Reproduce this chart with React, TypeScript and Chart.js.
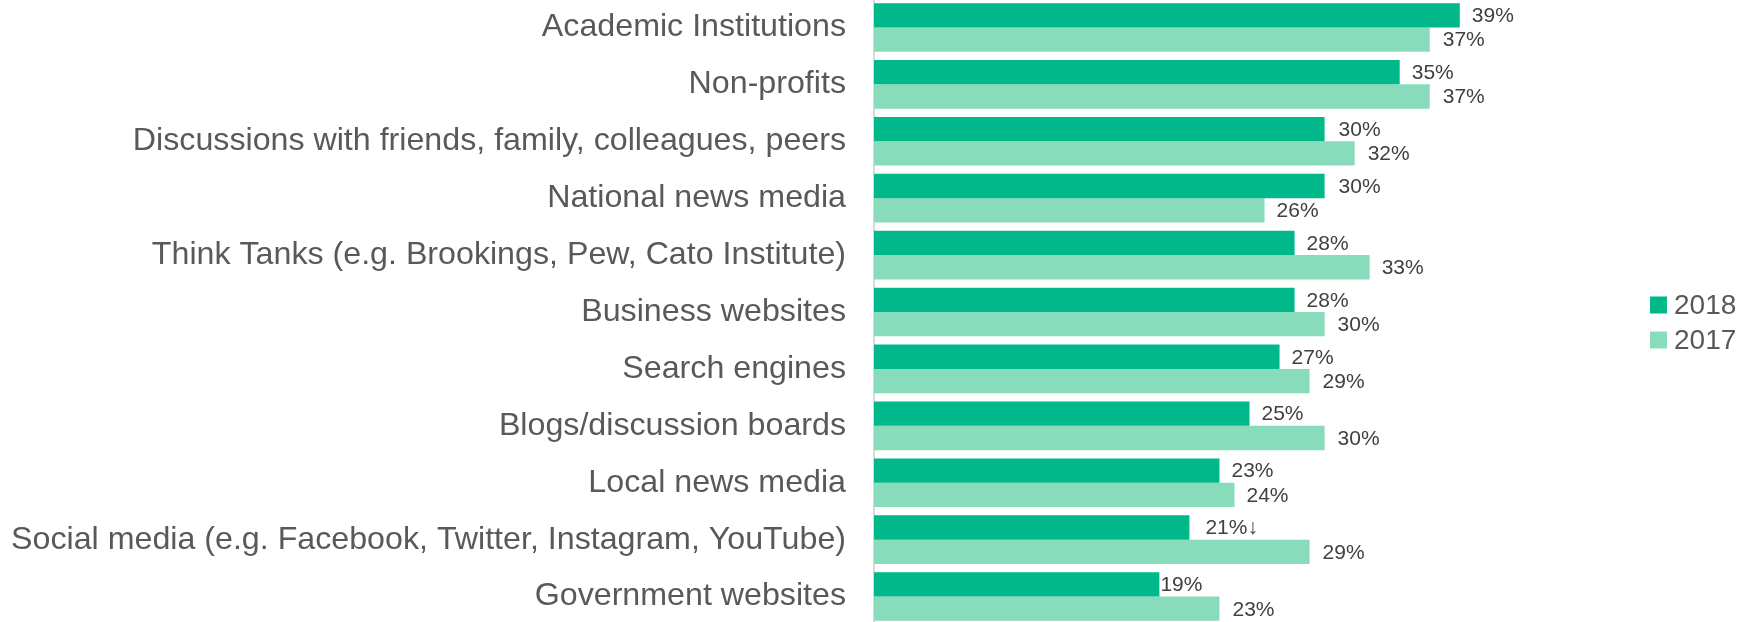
import React, { useEffect, useRef } from "react";
import { Chart, registerables } from "chart.js";

Chart.register(...registerables);

const categories: string[] = [
  "Academic Institutions",
  "Non-profits",
  "Discussions with friends, family, colleagues, peers",
  "National news media",
  "Think Tanks (e.g. Brookings, Pew, Cato Institute)",
  "Business websites",
  "Search engines",
  "Blogs/discussion boards",
  "Local news media",
  "Social media (e.g. Facebook, Twitter, Instagram, YouTube)",
  "Government websites",
];

const values2018: number[] = [39, 35, 30, 30, 28, 28, 27, 25, 23, 21, 19];
const values2017: number[] = [37, 37, 32, 26, 33, 30, 29, 30, 24, 29, 23];

const labels2018: string[] = ["39%", "35%", "30%", "30%", "28%", "28%", "27%", "25%", "23%", "21%↓", "19%"];
const labels2017: string[] = ["37%", "37%", "32%", "26%", "33%", "30%", "29%", "30%", "24%", "29%", "23%"];

const seriesNames: string[] = ["2018", "2017"];
const seriesColors: string[] = ["#00B88A", "#88DCBC"];

const FONT = "'Liberation Sans', Arial, sans-serif";

const labelOffsets2018: number[] = [12, 12, 14, 14, 12, 12, 12, 12, 12, 16, 1];
const labelOffsets2017: number[] = [13, 13, 13, 12, 12, 13, 13, 13, 12, 13, 13];

const dataLabelPlugin = {
  id: "dataLabels",
  afterDatasetsDraw(chart: any) {
    const ctx = chart.ctx;
    const allLabels = [labels2018, labels2017];
    const allOffsets = [labelOffsets2018, labelOffsets2017];
    ctx.save();
    ctx.font = `21px ${FONT}`;
    ctx.fillStyle = "#404040";
    ctx.textAlign = "left";
    ctx.textBaseline = "middle";
    chart.data.datasets.forEach((_ds: any, di: number) => {
      const meta = chart.getDatasetMeta(di);
      meta.data.forEach((el: any, i: number) => {
        ctx.fillText(allLabels[di][i], el.x + allOffsets[di][i], el.y + 1);
      });
    });
    ctx.restore();
  },
};

const legendPlugin = {
  id: "customLegend",
  afterDraw(chart: any) {
    const ctx = chart.ctx;
    ctx.save();
    ctx.font = `28px ${FONT}`;
    ctx.textBaseline = "middle";
    ctx.textAlign = "left";
    const x0 = 1650;
    const y0 = 306;
    const rowH = 35;
    chart.data.datasets.forEach((ds: any, i: number) => {
      const cy = y0 + i * rowH;
      ctx.fillStyle = ds.backgroundColor;
      ctx.fillRect(x0, cy - 8.5, 17, 17);
      ctx.fillStyle = "#595959";
      ctx.fillText(ds.label, x0 + 24, cy + 1);
    });
    ctx.restore();
  },
};

export default function App() {
  const canvasRef = useRef<HTMLCanvasElement | null>(null);

  useEffect(() => {
    if (!canvasRef.current) return;
    const chart = new Chart(canvasRef.current, {
      type: "bar",
      data: {
        labels: categories,
        datasets: [
          {
            label: seriesNames[0],
            data: values2018,
            backgroundColor: seriesColors[0],
            categoryPercentage: 0.855,
            barPercentage: 1.0,
          },
          {
            label: seriesNames[1],
            data: values2017,
            backgroundColor: seriesColors[1],
            categoryPercentage: 0.855,
            barPercentage: 1.0,
          },
        ],
      },
      options: {
        indexAxis: "y",
        animation: false,
        responsive: false,
        devicePixelRatio: 1,
        layout: { padding: { left: 0, right: 133, top: 0, bottom: 0 } },
        plugins: {
          legend: { display: false },
          tooltip: { enabled: false },
        },
        scales: {
          x: { display: false, min: 0, max: 50 },
          y: {
            grid: { display: false, drawTicks: false },
            border: { display: true, color: "#D9D9D9", width: 2 },
            ticks: {
              color: "#595959",
              padding: 28,
              font: { family: FONT, size: 32.2 },
            },
            afterFit: (scale: any) => {
              scale.width = 874;
              scale.paddingTop = 0;
              scale.paddingBottom = 0;
            },
          },
        },
      },
      plugins: [dataLabelPlugin, legendPlugin],
    });
    return () => chart.destroy();
  }, []);

  return (
    <div style={{ position: "fixed", left: 0, top: -1, width: 1758, height: 626, background: "#fff" }}>
      <canvas ref={canvasRef} width={1758} height={626} style={{ width: 1758, height: 626, display: "block" }} />
    </div>
  );
}
